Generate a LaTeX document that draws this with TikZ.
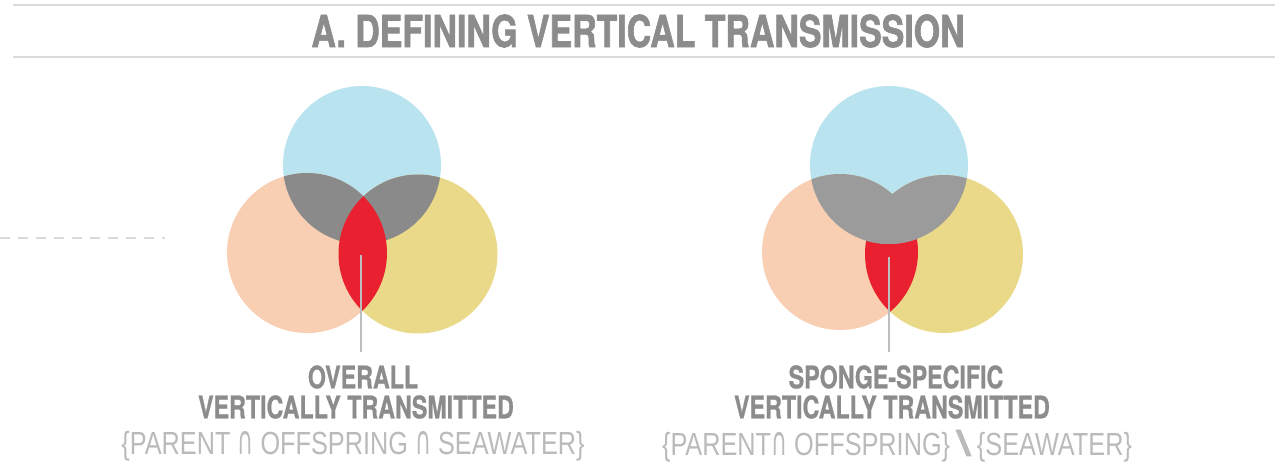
\documentclass[tikz,border=0pt]{standalone}
\usepackage{fontspec}
\usepackage{graphicx}
\setmainfont{TeX Gyre Heros}
\newfontfamily\titlefont[FakeStretch=0.77,FakeBold=1.4]{TeX Gyre Heros Bold}
\newfontfamily\labfont[FakeStretch=0.75,FakeBold=0.8]{TeX Gyre Heros Bold}
\newfontfamily\lightfont[FakeStretch=0.79]{Liberation Sans}
\newfontfamily\symfont{DejaVu Sans}
\newfontfamily\slashfont[FakeBold=1.5]{TeX Gyre Heros Bold}
\definecolor{cblue}{HTML}{B9E3EF}
\definecolor{cpink}{HTML}{F8CFB3}
\definecolor{cyellow}{HTML}{EBD98A}
\definecolor{cgrayA}{HTML}{8A8A8A}
\definecolor{cgrayB}{HTML}{9B9B9B}
\definecolor{cred}{HTML}{E8202F}
\definecolor{ctext}{HTML}{8C8C8C}
\definecolor{clight}{HTML}{BABABA}
\definecolor{crule}{HTML}{DADADA}
\definecolor{cpointer}{HTML}{BDBDBD}
\tikzset{
  titlestyle/.style={text=ctext, font=\titlefont\fontsize{44}{44}\selectfont, inner sep=0pt},
  labstyle/.style={text=ctext, font=\labfont\fontsize{31}{31}\selectfont, inner sep=0pt},
  setstyle/.style={text=clight, font=\lightfont\fontsize{32}{32}\selectfont, inner sep=0pt},
  rulestyle/.style={crule, line width=2pt},
  pointer/.style={cpointer, line width=1.5pt},
}
\newcommand{\capsym}{\resizebox{0.5em}{0.72em}{\symfont\char"2229}}
\newcommand{\setminussym}{\resizebox{0.4em}{0.8em}{\slashfont\textbackslash}}
\begin{document}
\begin{tikzpicture}[x=1pt,y=-1pt]
\useasboundingbox (0,0) rectangle (1280,473);
% rules and title
\draw[rulestyle] (13,5) -- (1275,5);
\draw[rulestyle] (13,57) -- (1275,57);
\node[titlestyle] (title) at (638,31) {A. DEFINING VERTICAL TRANSMISSION};
\draw[crule, line width=1.5pt, dash pattern=on 10pt off 8pt] (0,238) -- (165,238);

% ---------- left Venn ----------
\def\LBx{362}\def\LBy{165}\def\LBr{79}
\def\LPx{307}\def\LPy{253}\def\LPr{80}
\def\LYx{418}\def\LYy{254}\def\LYr{79.5}
\fill[cblue] (\LBx,\LBy) circle (\LBr);
\fill[cpink] (\LPx,\LPy) circle (\LPr);
\fill[cyellow] (\LYx,\LYy) circle (\LYr);
\begin{scope}
  \clip (\LBx,\LBy) circle (\LBr);
  \fill[cgrayA] (\LPx,\LPy) circle (\LPr);
  \fill[cgrayA] (\LYx,\LYy) circle (\LYr);
\end{scope}
\begin{scope}
  \clip (\LPx,\LPy) circle (\LPr);
  \fill[cred] (\LYx,\LYy) circle (\LYr);
\end{scope}

% ---------- right Venn ----------
\def\RBx{889}\def\RBy{165}\def\RBr{79}
\def\RPx{840}\def\RPy{252}\def\RPr{78}
\def\RYx{944}\def\RYy{254}\def\RYr{79}
\fill[cblue] (\RBx,\RBy) circle (\RBr);
\fill[cpink] (\RPx,\RPy) circle (\RPr);
\fill[cyellow] (\RYx,\RYy) circle (\RYr);
\begin{scope}
  \clip (\RPx,\RPy) circle (\RPr);
  \fill[cred] (\RYx,\RYy) circle (\RYr);
\end{scope}
\begin{scope}
  \clip (\RBx,\RBy) circle (\RBr);
  \fill[cgrayB] (\RPx,\RPy) circle (\RPr);
  \fill[cgrayB] (\RYx,\RYy) circle (\RYr);
\end{scope}

% ---------- labels ----------
\node[labstyle] (lt1) at (363,377) {OVERALL};
\node[labstyle] (lt2) at (356,407) {VERTICALLY TRANSMITTED};
\node[setstyle] (lt3) at (353,446) {\{PARENT \capsym\ OFFSPRING \capsym\ SEAWATER\}};
\node[labstyle] (rt1) at (896,377) {SPONGE-SPECIFIC};
\node[labstyle] (rt2) at (892,407) {VERTICALLY TRANSMITTED};
\node[setstyle] (rt3) at (897,446) {\{PARENT\capsym\ OFFSPRING\} \setminussym\ \{SEAWATER\}};

\coordinate (lp) at (361,255);
\coordinate (rp) at (889,257);
\draw[pointer] (lp) -- (lp |- 0,352);
\draw[pointer] (rp) -- (rp |- 0,352);
\end{tikzpicture}
\end{document}
